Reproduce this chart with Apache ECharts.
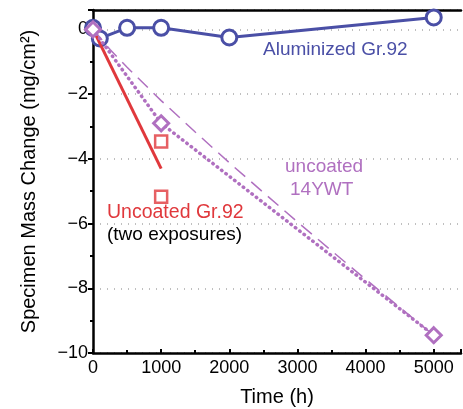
<!DOCTYPE html>
<html><head><meta charset="utf-8">
<script src="https://cdn.jsdelivr.net/npm/echarts@6/dist/echarts.min.js"></script>
<style>html,body{margin:0;padding:0;background:#fff}#c{width:463px;height:409px}</style>
</head><body><div id="c"></div>
<script>
// ---- data ----
const alumT = [0, 100, 500, 1000, 2000, 5000];
const alumV = [0.05, -0.28, 0.05, 0.05, -0.25, 0.37];
const grLineT = [0, 1000];
const grLineV = [0, -4.3];
const grPtsT = [1000, 1000];
const grPtsV = [-3.46, -5.17];
const ywtT = [0, 1000, 5000];
const ywtV = [0, -2.9, -9.45];
const ywtFitT = [0, 250, 500, 1000, 1500, 2000, 2500, 3000, 3500, 4000, 4500, 5000];
const ywtFitV = [0, -0.62, -1.17, -2.2, -3.17, -4.12, -5.04, -5.95, -6.84, -7.72, -8.59, -9.45];
const xTicks = [0, 1000, 2000, 3000, 4000, 5000];
const yTicks = [-10, -8, -6, -4, -2, 0];

const BLUE = '#4a4fa6', RED = '#e0383c', PURPLE = '#b070c0';
const FONT = '"Liberation Sans", Arial, Helvetica, sans-serif';
const zip = (a, b) => a.map((v, i) => [v, b[i]]);

const chart = echarts.init(document.getElementById('c'));
chart.setOption({
  animation: false,
  backgroundColor: '#fff',
  textStyle: { fontFamily: FONT },
  grid: { left: 93, right: 2, top: 10, bottom: 56, outerBoundsMode: 'none', containLabel: false },
  xAxis: [{
    type: 'value', min: 0, max: 5400, interval: 1000,
    name: 'Time (h)', nameLocation: 'middle', nameGap: 34,
    nameTextStyle: { fontSize: 20, color: '#000', fontFamily: FONT },
    axisLine: { show: true, onZero: false, lineStyle: { color: '#000', width: 2.5 } },
    axisTick: { show: true, inside: true, length: 4, lineStyle: { color: '#000', width: 2 } },
    minorTick: { show: true, splitNumber: 2, length: 3, lineStyle: { color: '#000', width: 2 } },
    axisLabel: { fontSize: 18, color: '#000', margin: 6, fontFamily: FONT, showMaxLabel: false,
      formatter: v => xTicks.includes(v) ? String(v) : '' },
    splitLine: { show: false }
  }, {
    type: 'value', min: 0, max: 5400, position: 'top',
    axisLine: { show: true, onZero: false, lineStyle: { color: '#000', width: 2.5 } },
    axisTick: { show: false }, axisLabel: { show: false }, splitLine: { show: false }
  }],
  yAxis: {
    type: 'value', min: -10, max: 0.6, interval: 2,
    name: 'Specimen Mass Change (mg/cm²)', nameLocation: 'middle', nameGap: 54,
    nameTextStyle: { fontSize: 20, color: '#000', fontFamily: FONT },
    axisLine: { show: true, onZero: false, lineStyle: { color: '#000', width: 2.5 } },
    axisTick: { show: true, length: 5, lineStyle: { color: '#000', width: 2 } },
    minorTick: { show: true, splitNumber: 2, length: 3, lineStyle: { color: '#000', width: 2 } },
    axisLabel: { fontSize: 18, color: '#000', margin: 5, fontFamily: FONT, showMaxLabel: false,
      formatter: v => yTicks.includes(v) ? (v < 0 ? '\u2212' + Math.abs(v) : String(v)) : '' },
    splitLine: { show: true, lineStyle: { color: '#aaa', width: 1.5, type: [1, 6] } }
  },
  series: [
    { name: 'Aluminized Gr.92', type: 'line', data: zip(alumT, alumV), symbol: 'circle', symbolSize: 15,
      itemStyle: { color: '#fff', borderColor: BLUE, borderWidth: 3 },
      lineStyle: { color: BLUE, width: 3 }, z: 2 },
    { name: '14YWT fit', type: 'line', data: zip(ywtFitT, ywtFitV), showSymbol: false, symbol: 'none',
      lineStyle: { color: PURPLE, width: 1.5, type: [14, 8] }, z: 3 },
    { name: 'Gr.92 line', type: 'line', data: zip(grLineT, grLineV), symbol: 'none',
      lineStyle: { color: RED, width: 3 }, z: 4 },
    { name: 'Uncoated Gr.92', type: 'scatter', data: zip(grPtsT, grPtsV), symbol: 'rect', symbolSize: 12,
      itemStyle: { color: '#fff', borderColor: RED, borderWidth: 2.5 }, z: 4 },
    { name: 'uncoated 14YWT', type: 'line', data: zip(ywtT, ywtV), symbol: 'diamond', symbolSize: 15,
      itemStyle: { color: '#fff', borderColor: PURPLE, borderWidth: 3 },
      lineStyle: { color: PURPLE, width: 3.5, type: [0.5, 5], cap: 'round' }, z: 5 }
  ],
  graphic: [
    { type: 'text', left: 263, top: 40, style: { text: 'Aluminized Gr.92', fill: BLUE, font: '19px ' + FONT } },
    { type: 'text', left: 285, top: 157, style: { text: 'uncoated', fill: PURPLE, font: '19px ' + FONT } },
    { type: 'text', left: 290, top: 180, style: { text: '14YWT', fill: PURPLE, font: '19px ' + FONT } },
    { type: 'text', left: 107, top: 203, style: { text: 'Uncoated Gr.92', fill: RED, font: '19.5px ' + FONT } },
    { type: 'text', left: 107, top: 225, style: { text: '(two exposures)', fill: '#000', font: '19px ' + FONT } }
  ]
});
</script>
</body></html>
